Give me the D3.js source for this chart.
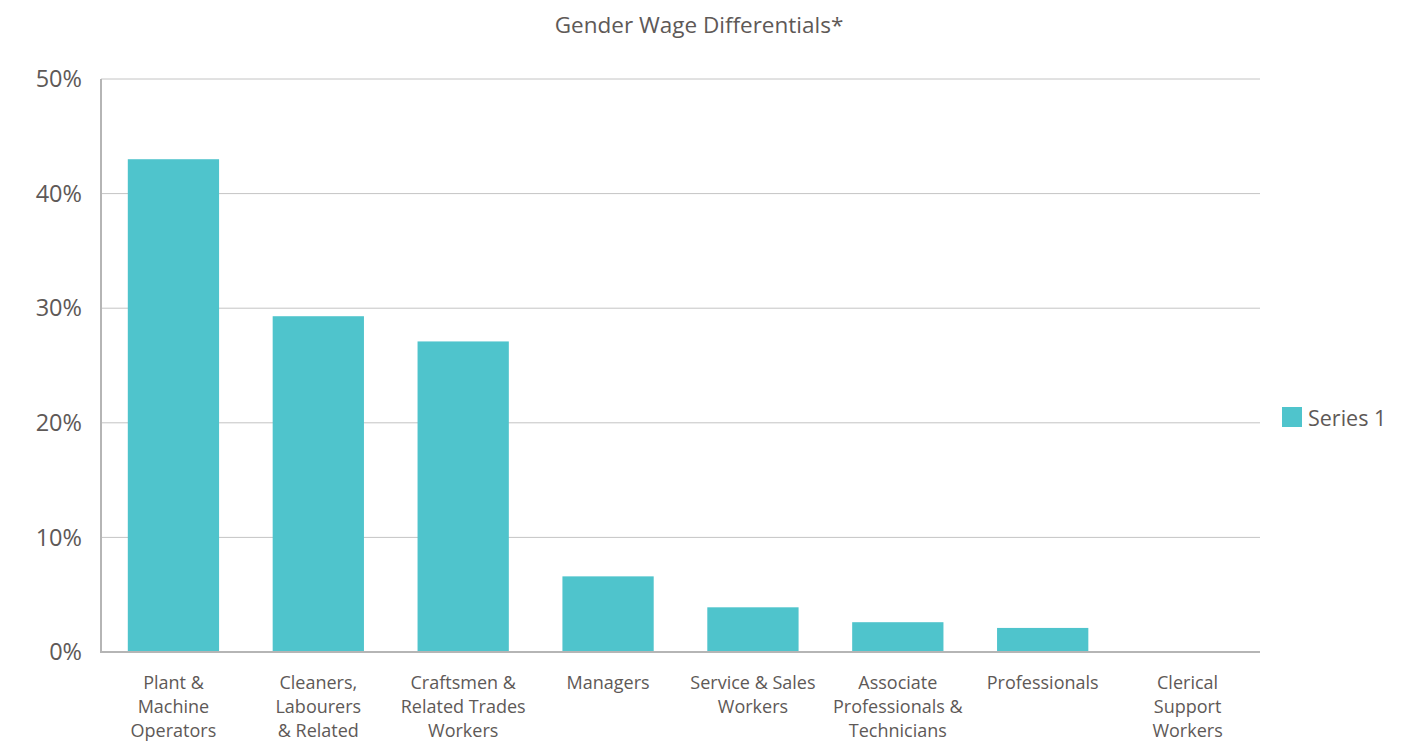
<!DOCTYPE html>
<html><head><meta charset="utf-8">
<script src="https://cdn.jsdelivr.net/npm/d3@7"></script>
<style>
html,body{margin:0;padding:0;background:#fff;}
svg{display:block;font-family:"Open Sans","Noto Sans",sans-serif;}
</style></head>
<body>
<svg id="c" width="1422" height="742"></svg>
<script>
const categories = [
  ["Plant &","Machine","Operators"],
  ["Cleaners,","Labourers","& Related"],
  ["Craftsmen &","Related Trades","Workers"],
  ["Managers"],
  ["Service & Sales","Workers"],
  ["Associate","Professionals &","Technicians"],
  ["Professionals"],
  ["Clerical","Support","Workers"]
];
const values = [43.0, 29.3, 27.1, 6.6, 3.9, 2.6, 2.1, 0];
const yTicks = [0, 10, 20, 30, 40, 50];
const seriesName = "Series 1";
const title = "Gender Wage Differentials*";

(function () {
const svg = d3.select("#c");
const textCol = "#5e5957";
const barCol = "#4fc4cc";
const mLeft = 101, mRight = 1260, mTop = 79, mBottom = 652;

const x = d3.scaleBand().domain(d3.range(values.length)).range([mLeft, mRight]).paddingInner(0.37).paddingOuter(0.185);
const y = d3.scaleLinear().domain([0, 50]).range([mBottom, mTop]);

// gridlines
svg.append("g").selectAll("line").data(yTicks.filter(d => d > 0)).join("line")
  .attr("x1", mLeft).attr("x2", mRight)
  .attr("y1", d => y(d)).attr("y2", d => y(d))
  .attr("stroke", "#c4c4c4").attr("stroke-width", 1);

// bars
svg.append("g").selectAll("rect").data(values).join("rect")
  .attr("x", (d, i) => x(i)).attr("width", x.bandwidth())
  .attr("y", d => y(d)).attr("height", d => y(0) - y(d))
  .attr("fill", barCol);

// axes lines
svg.append("line").attr("x1", mLeft).attr("x2", mLeft).attr("y1", mTop).attr("y2", mBottom + 1)
  .attr("stroke", "#b5b5b5").attr("stroke-width", 2);
svg.append("line").attr("x1", mLeft - 1).attr("x2", mRight).attr("y1", mBottom).attr("y2", mBottom)
  .attr("stroke", "#b5b5b5").attr("stroke-width", 2);

// y tick labels
svg.append("g").selectAll("text").data(yTicks).join("text")
  .attr("x", 82).attr("y", d => y(d)).attr("dy", "0.35em")
  .attr("text-anchor", "end").attr("font-size", 23.5).attr("fill", textCol)
  .text(d => d + "%");

// x labels
const xl = svg.append("g").selectAll("text").data(categories).join("text")
  .attr("text-anchor", "middle").attr("font-size", 18).attr("fill", textCol)
  .attr("transform", (d, i) => `translate(${x(i) + x.bandwidth() / 2},0)`);
xl.selectAll("tspan").data(d => d).join("tspan")
  .attr("x", 0).attr("y", (d, j) => 689 + j * 24).text(d => d);

// title
svg.append("text").attr("x", 699).attr("y", 33).attr("text-anchor", "middle")
  .attr("font-size", 22.5).attr("fill", textCol).text(title);

// legend
svg.append("rect").attr("x", 1282).attr("y", 407).attr("width", 20).attr("height", 20).attr("fill", barCol);
svg.append("text").attr("x", 1308).attr("y", 418).attr("dy", "0.35em")
  .attr("font-size", 21.5).attr("fill", textCol).text(seriesName);
})();
</script>
</body></html>
